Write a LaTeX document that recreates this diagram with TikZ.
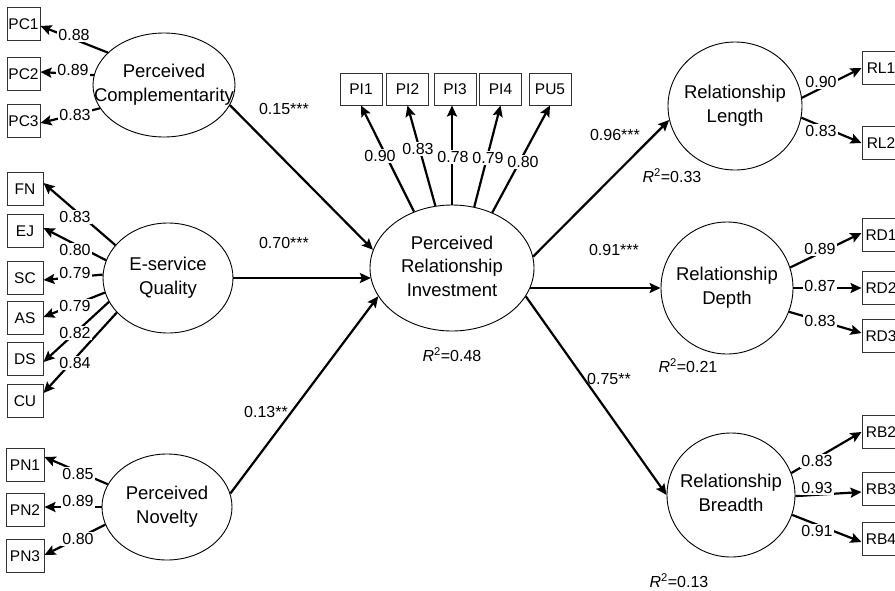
\documentclass[tikz,border=0pt]{standalone}
\usepackage{fontspec}
\setmainfont{Liberation Sans}
\usetikzlibrary{shapes.geometric,arrows.meta}
\newcommand{\zw}[1]{\makebox[0pt][c]{\begin{tabular}{@{}c@{}}#1\end{tabular}}}
\newcommand{\rsq}[1]{\textit{R}\textsuperscript{2}=#1}
\begin{document}
\begin{tikzpicture}[x=1pt,y=-1pt,
  lat/.style={draw, ellipse, line width=0.9pt, inner sep=0pt, font=\fontsize{18.5}{23.5}\selectfont},
  obs/.style={draw=black!80, rectangle, line width=1pt, inner sep=0pt, minimum height=33pt, font=\fontsize{15.5}{18}\selectfont},
  ld/.style={fill=white, inner sep=1.5pt, font=\fontsize{16}{19}\selectfont},
  coef/.style={inner sep=0pt, font=\fontsize{16}{19}\selectfont},
  arr/.style={line width=2.2pt, -{Stealth[length=11pt,width=10pt,inset=2pt]}}
]
\useasboundingbox (0,0) rectangle (895,590);
\clip (0,0) rectangle (895,590);

% latent variables
\node[lat, minimum width=142pt, minimum height=104pt] (pc) at (164,85) {\zw{Perceived\\Complementarity}};
\node[lat, minimum width=130pt, minimum height=110pt] (eq) at (168,278) {\zw{E-service\\Quality}};
\node[lat, minimum width=130pt, minimum height=106pt] (pn) at (167,507) {\zw{Perceived\\Novelty}};
\node[lat, minimum width=164pt, minimum height=126pt] (pri) at (452,268) {\zw{Perceived\\Relationship\\Investment}};
\node[lat, minimum width=134pt, minimum height=128pt] (rl) at (735,106) {\zw{Relationship\\Length}};
\node[lat, minimum width=132pt, minimum height=132pt] (rd) at (727,288) {\zw{Relationship\\Depth}};
\node[lat, minimum width=128pt, minimum height=124pt] (rb) at (731,495) {\zw{Relationship\\Breadth}};

% indicators left
\node[obs, minimum width=33pt] (pc1) at (23.5,24) {PC1};
\node[obs, minimum width=33pt] (pc2) at (23.5,74) {PC2};
\node[obs, minimum width=33pt] (pc3) at (23.5,121) {PC3};
\node[obs, minimum width=36pt] (fn) at (25,189) {FN};
\node[obs, minimum width=36pt] (ej) at (25,231) {EJ};
\node[obs, minimum width=36pt] (sc) at (25,278) {SC};
\node[obs, minimum width=36pt] (as) at (25,318) {AS};
\node[obs, minimum width=36pt] (ds) at (25,359) {DS};
\node[obs, minimum width=36pt] (cu) at (25,401) {CU};
\node[obs, minimum width=38pt] (pn1) at (25,465) {PN1};
\node[obs, minimum width=38pt] (pn2) at (25,510) {PN2};
\node[obs, minimum width=38pt] (pn3) at (25,556) {PN3};
% indicators top
\node[obs, minimum width=42pt, minimum height=32pt] (pi1) at (361,89) {PI1};
\node[obs, minimum width=42pt, minimum height=32pt] (pi2) at (407.5,89) {PI2};
\node[obs, minimum width=42pt, minimum height=32pt] (pi3) at (455,89) {PI3};
\node[obs, minimum width=42pt, minimum height=32pt] (pi4) at (500.5,89) {PI4};
\node[obs, minimum width=42pt, minimum height=32pt] (pu5) at (550,89) {PU5};
% indicators right
\node[obs, minimum width=38pt] (rl1) at (881,68) {RL1};
\node[obs, minimum width=38pt] (rl2) at (881,143) {RL2};
\node[obs, minimum width=38pt] (rd1) at (881,235) {RD1};
\node[obs, minimum width=38pt] (rd2) at (881,288) {RD2};
\node[obs, minimum width=38pt] (rd3) at (881,336) {RD3};
\node[obs, minimum width=38pt] (rb2) at (881,432) {RB2};
\node[obs, minimum width=38pt] (rb3) at (881,489) {RB3};
\node[obs, minimum width=38pt] (rb4) at (881,539) {RB4};

% structural paths
\draw[arr] (pc.343) -- (pri.167);
\draw[arr] (eq.east) -- (eq.east -| pri.188);
\draw[arr] (pn.12) -- (pri.201);
\draw[arr] (pri.8) -- (rl.192);
\draw[arr] (rd.west -| pri.346) -- (rd.west);
\draw[arr] (pri.339) -- (rb.west);

% measurement paths
\draw[arr] (pc.150) -- ([yshift=-2pt]pc1.east);
\draw[arr] (pc.172) -- ([yshift=2pt]pc2.east);
\draw[arr] (pc.200) -- ([yshift=-2pt]pc3.east);
\draw[arr] (eq.148) -- ([yshift=6pt]fn.east);
\draw[arr] (eq.164) -- ([yshift=3pt]ej.east);
\draw[arr] (eq.177) -- ([yshift=-2pt]sc.east);
\draw[arr] (eq.193) -- ([yshift=1pt]as.east);
\draw[arr] (eq.202) -- ([yshift=-3pt]ds.east);
\draw[arr] (eq.214) -- ([yshift=8pt]cu.east);
\draw[arr] (pn.159) -- ([yshift=8pt]pn1.east);
\draw[arr] (pn.180) -- ([yshift=3pt]pn2.east);
\draw[arr] (pn.196) -- ([yshift=1pt]pn3.east);
\draw[arr] (pri.124) -- (pi1.south);
\draw[arr] (pri.105) -- (pi2.south);
\draw[arr] (pri.90) -- (pri.90 |- pi3.south);
\draw[arr] (pri.70) -- (pi4.south);
\draw[arr] (pri.54) -- (pu5.south);
\draw[arr] (rl.7) -- (rl1.west);
\draw[arr] (rl.350) -- (rl2.west);
\draw[arr] (rd.18) -- ([yshift=2pt]rd1.west);
\draw[arr] (rd.0) -- (rd2.west);
\draw[arr] (rd.339) -- ([yshift=3pt]rd3.west);
\draw[arr] (rb.20) -- (rb2.west);
\draw[arr] (rb.359) -- ([yshift=-3pt]rb3.west);
\draw[arr] (rb.342) -- ([yshift=-3pt]rb4.west);

% loadings
\node[ld] (lpc1) at (74,35) {0.88};
\node[ld] (lpc2) at (73,70) {0.89};
\node[ld] (lpc3) at (75,115) {0.83};
\node[ld] (lfn) at (75,217) {0.83};
\node[ld] (lej) at (75,250) {0.80};
\node[ld] (lsc) at (75,273) {0.79};
\node[ld] (las) at (75,306) {0.79};
\node[ld] (lds) at (75,333) {0.82};
\node[ld] (lcu) at (75,363) {0.84};
\node[ld] (lpn1) at (78,474) {0.85};
\node[ld] (lpn2) at (78,501) {0.89};
\node[ld] (lpn3) at (78,539) {0.80};
\node[ld] (lpi1) at (380,156) {0.90};
\node[ld] (lpi2) at (418,149) {0.83};
\node[ld] (lpi3) at (453,157) {0.78};
\node[ld] (lpi4) at (488,158) {0.79};
\node[ld] (lpu5) at (523,162) {0.80};
\node[ld] (lrl1) at (821,82) {0.90};
\node[ld] (lrl2) at (821,131) {0.83};
\node[ld] (lrd1) at (820,249) {0.89};
\node[ld] (lrd2) at (820,286) {0.87};
\node[ld] (lrd3) at (820,321) {0.83};
\node[ld] (lrb2) at (817,461) {0.83};
\node[ld] (lrb3) at (817,488) {0.93};
\node[ld] (lrb4) at (817,531) {0.91};

% structural coefficients
\node[coef] (cpc) at (284,109) {0.15***};
\node[coef] (ceq) at (284,243) {0.70***};
\node[coef] (cpn) at (266,412) {0.13**};
\node[coef] (crl) at (615,135) {0.96***};
\node[coef] (crd) at (614,250) {0.91***};
\node[coef] (crb) at (609,379) {0.75**};

% R squared
\node[coef] (rpri) at (452,355) {\rsq{0.48}};
\node[coef] (rrl) at (672,176) {\rsq{0.33}};
\node[coef] (rrd) at (688,366) {\rsq{0.21}};
\node[coef] (rrb) at (679,581) {\rsq{0.13}};
\end{tikzpicture}
\end{document}
